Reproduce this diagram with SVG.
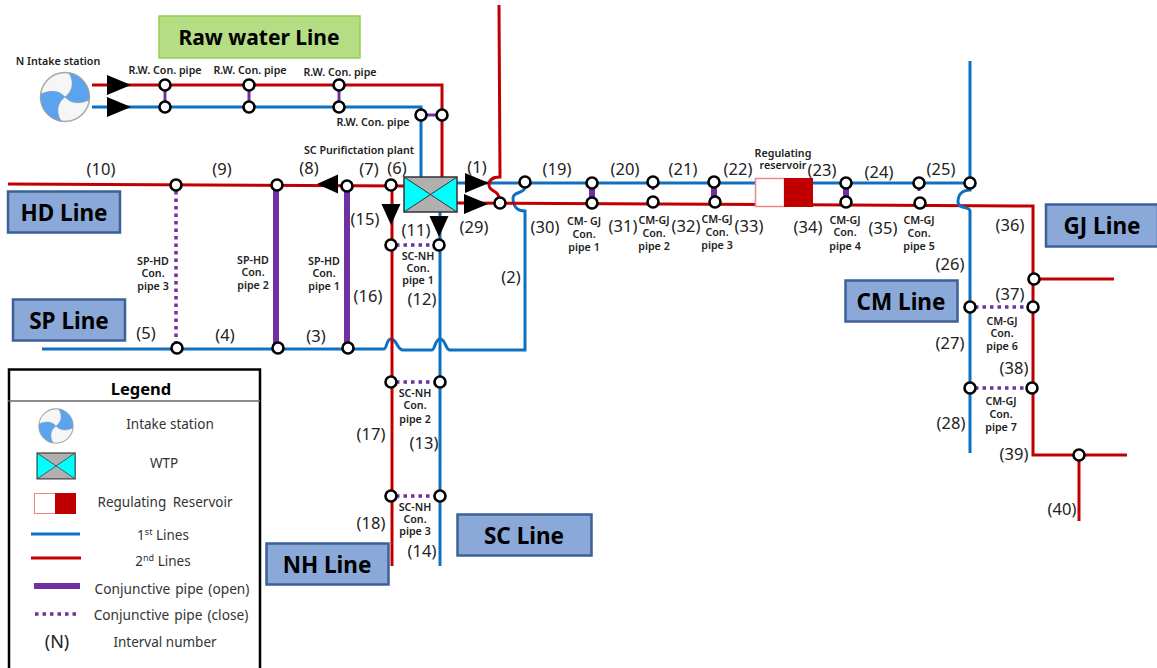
<svg xmlns="http://www.w3.org/2000/svg" width="1157" height="668" viewBox="0 0 1157 668">
<style>
text{font-family:"Noto Sans","Open Sans","Liberation Sans",sans-serif;text-anchor:middle;dominant-baseline:central;fill:#111}
.b1,.b2,.open,.thin,.close{fill:none}
.b1{stroke:#0f70c0;stroke-width:3}
.b2{stroke:#c00000;stroke-width:3}
.open{stroke:#7030a0;stroke-width:6}
.thin{stroke:#7030a0;stroke-width:3}
.close{stroke:#7030a0;stroke-width:3.5;stroke-dasharray:3.5 4}
.j{fill:#fff;stroke:#000;stroke-width:2.6}
.lb{fill:#8aa8d8;stroke:#3d6196;stroke-width:2.5}
.lt{font-size:22.5px;font-weight:700;fill:#000}
.n{font-size:16.5px;fill:#222}
.s{font-size:10.7px;font-weight:600;fill:#222}
.leg{font-size:13.5px;fill:#333}
.wide{word-spacing:1.5px;font-size:13.7px}
</style>
<defs>
<polygon id="ar" points="-12,-10 12,0 -12,10" fill="#000"/>
<polygon id="ars" points="-11,-9.500 10,0 -11,9.500" fill="#000"/>
<g id="fan">
<circle r="24.500" fill="#f6f6f6" stroke="#a8a8a8" stroke-width="1.500"/>
<path d="M0,0C7,-5 10,-14 4,-24A24.500,24.500 0 0 1 24,3C15,7 6,7 0,0Z" fill="#5ba3ee" stroke="#8a9bb0" stroke-width=".7"/>
<path d="M0,0C7,-5 10,-14 4,-24A24.500,24.500 0 0 1 24,3C15,7 6,7 0,0Z" fill="#5ba3ee" stroke="#8a9bb0" stroke-width=".7" transform="rotate(180)"/>
</g>
<g id="wtp">
<rect x="0" y="0" width="53" height="35" fill="#b0b0b0"/>
<polygon points="0,0 26.500,17.500 0,35" fill="#00ffff"/>
<polygon points="53,0 26.500,17.500 53,35" fill="#00ffff"/>
<path d="M0,0L53,35M53,0L0,35" stroke="#333" stroke-width="1" fill="none"/>
<rect x="0" y="0" width="53" height="35" fill="none" stroke="#333" stroke-width="1.500"/>
</g>
</defs>
<rect width="1157" height="668" fill="#fff"/>

<g id="connectors">
<path class="b2" d="M92,85H442V178"/>
<path class="b1" d="M92,107H421V178"/>
<path class="b2" d="M8,184L404,186"/>
<path class="b1" d="M42,349H384C387,349 386,339 391,339C397,339 397,350 403,350H432C435,350 435,339 440,339C446,339 445,350 450,350H525V211C513,211 513,200 513,198C513,191 525,194 525,187"/>
<path class="b2" d="M392,190V566"/>
<path class="b1" d="M440,212V566"/>
<path class="b1" d="M457,183H970"/>
<path class="b2" d="M457,203L1033,206V455H1127"/>
<path class="b2" d="M499,5L500,177C489,177 489,183 489,185C489,192 499,190 499,198"/>
<path class="b1" d="M970,61V190C958,190 958,200 958,202C958,209 970,206 970,211V453"/>
<path class="b2" d="M1034,279H1114"/>
<path class="b2" d="M1079,455V521"/>
<path class="thin" d="M165,88V104M249,88V104M339,88V104M421,115H442"/>
<path class="open" d="M276,190V346M347,190V346"/>
<path class="open" d="M592,188V198M714,187V198M846,188V198"/>
<path class="thin" d="M653,187V190M919,188V191"/>
<path class="close" d="M176,191V344M396,245H435M396,382H435M396,496H435M975,307H1027M975,388H1027"/>
<use href="#ar" x="119" y="85"/>
<use href="#ar" x="119" y="107"/>
<use href="#ars" transform="translate(327,184) rotate(180)"/>
<use href="#ars" transform="translate(391,215) rotate(90)"/>
<use href="#ars" transform="translate(439,227) rotate(90)"/>
<use href="#ar" x="477" y="183"/>
<use href="#ar" x="476" y="204"/>
</g>

<g id="label-raw"><rect x="159" y="16" width="201" height="42" fill="#b5de84" stroke="#92d050" stroke-width="1.500"/><text class="lt" x="259" y="37" style="font-size:21px">Raw water Line</text></g>
<g id="label-hd"><rect class="lb" x="8" y="191.500" width="112" height="41"/><text class="lt" x="64" y="212">HD Line</text></g>
<g id="label-sp"><rect class="lb" x="13" y="299.500" width="112" height="41"/><text class="lt" x="69" y="320">SP Line</text></g>
<g id="label-nh"><rect class="lb" x="266.500" y="543.500" width="122" height="41"/><text class="lt" x="327" y="564">NH Line</text></g>
<g id="label-sc"><rect class="lb" x="457.500" y="514.500" width="134" height="41"/><text class="lt" x="524" y="535">SC Line</text></g>
<g id="label-cm"><rect class="lb" x="845.500" y="280.500" width="112" height="41"/><text class="lt" x="901" y="301">CM Line</text></g>
<g id="label-gj"><rect class="lb" x="1046" y="204.500" width="112" height="42"/><text class="lt" x="1102" y="225">GJ Line</text></g>

<g id="intake"><use href="#fan" x="65" y="97"/></g>
<g id="wtp-main"><use href="#wtp" x="404" y="177"/></g>
<g id="reservoir"><rect x="755.500" y="178.500" width="29" height="28" fill="#fff" stroke="#e88" stroke-width="1.500"/><rect x="784" y="178" width="29" height="29" fill="#c00000"/></g>

<g id="junctions">
<circle class="j" cx="165" cy="85" r="5.500"/><circle class="j" cx="249" cy="85" r="5.500"/><circle class="j" cx="339" cy="85" r="5.500"/>
<circle class="j" cx="165" cy="107" r="5.500"/><circle class="j" cx="249" cy="107" r="5.500"/><circle class="j" cx="339" cy="107" r="5.500"/>
<circle class="j" cx="421" cy="115" r="5.500"/><circle class="j" cx="442" cy="115" r="5.500"/>
<circle class="j" cx="176" cy="185" r="5.500"/><circle class="j" cx="277" cy="185" r="5.500"/><circle class="j" cx="347" cy="186" r="5.500"/><circle class="j" cx="391" cy="185" r="5.500"/>
<circle class="j" cx="177" cy="348" r="5.500"/><circle class="j" cx="278" cy="348" r="5.500"/><circle class="j" cx="348" cy="348" r="5.500"/>
<circle class="j" cx="391" cy="245" r="5.500"/><circle class="j" cx="439" cy="245" r="5.500"/>
<circle class="j" cx="391" cy="382" r="5.500"/><circle class="j" cx="440" cy="382" r="5.500"/>
<circle class="j" cx="391" cy="496" r="5.500"/><circle class="j" cx="440" cy="496" r="5.500"/>
<circle class="j" cx="525" cy="182" r="5.500"/><circle class="j" cx="500" cy="203" r="5.500"/>
<circle class="j" cx="592" cy="183" r="5.500"/><circle class="j" cx="653" cy="182" r="5.500"/><circle class="j" cx="714" cy="182" r="5.500"/><circle class="j" cx="846" cy="183" r="5.500"/><circle class="j" cx="919" cy="183" r="5.500"/><circle class="j" cx="970" cy="183" r="5.500"/>
<circle class="j" cx="592" cy="203" r="5.500"/><circle class="j" cx="653" cy="202" r="5.500"/><circle class="j" cx="715" cy="202" r="5.500"/><circle class="j" cx="846" cy="202" r="5.500"/><circle class="j" cx="920" cy="203" r="5.500"/>
<circle class="j" cx="1034" cy="279" r="5.500"/><circle class="j" cx="1033" cy="307" r="5.500"/><circle class="j" cx="1032" cy="388" r="5.500"/>
<circle class="j" cx="970" cy="307" r="5.500"/><circle class="j" cx="970" cy="388" r="5.500"/><circle class="j" cx="1079" cy="455" r="5.500"/>
</g>

<g id="numbers">
<text class="n" x="101" y="168">(10)</text><text class="n" x="222" y="168">(9)</text><text class="n" x="309" y="167">(8)</text><text class="n" x="369" y="168">(7)</text><text class="n" x="397" y="167">(6)</text><text class="n" x="477" y="166">(1)</text><text class="n" x="474" y="226">(29)</text><text class="n" x="365" y="218">(15)</text><text class="n" x="416" y="229">(11)</text><text class="n" x="368" y="295">(16)</text><text class="n" x="422" y="298">(12)</text><text class="n" x="511" y="276">(2)</text><text class="n" x="146" y="332">(5)</text><text class="n" x="225" y="334">(4)</text><text class="n" x="316" y="335">(3)</text><text class="n" x="371" y="433">(17)</text><text class="n" x="424" y="442">(13)</text><text class="n" x="371" y="522">(18)</text><text class="n" x="422" y="550">(14)</text>
<text class="n" x="557" y="168">(19)</text><text class="n" x="625" y="168">(20)</text><text class="n" x="683" y="168">(21)</text><text class="n" x="738" y="168">(22)</text><text class="n" x="822" y="169">(23)</text><text class="n" x="879" y="171">(24)</text><text class="n" x="941" y="168">(25)</text><text class="n" x="545" y="226">(30)</text><text class="n" x="623" y="225">(31)</text><text class="n" x="686" y="225">(32)</text><text class="n" x="749" y="225">(33)</text><text class="n" x="808" y="226">(34)</text><text class="n" x="883" y="227">(35)</text><text class="n" x="950" y="263">(26)</text><text class="n" x="950" y="342">(27)</text><text class="n" x="951" y="422">(28)</text><text class="n" x="1010" y="224">(36)</text><text class="n" x="1010" y="293">(37)</text><text class="n" x="1014" y="367">(38)</text><text class="n" x="1014" y="453">(39)</text><text class="n" x="1062" y="508">(40)</text>
</g>

<g id="small-labels">
<text class="s" x="58" y="61">N Intake station</text>
<text class="s" x="165" y="70">R.W. Con. pipe</text><text class="s" x="250" y="70">R.W. Con. pipe</text><text class="s" x="340" y="72">R.W. Con. pipe</text><text class="s" x="373" y="122">R.W. Con. pipe</text>
<text class="s" x="359" y="150">SC Purifictation plant</text>
<text class="s" x="153" y="261">SP-HD</text><text class="s" x="153" y="273">Con.</text><text class="s" x="153" y="286">pipe 3</text>
<text class="s" x="253" y="260">SP-HD</text><text class="s" x="253" y="272">Con.</text><text class="s" x="253" y="285">pipe 2</text>
<text class="s" x="324" y="261">SP-HD</text><text class="s" x="324" y="273">Con.</text><text class="s" x="324" y="286">pipe 1</text>
<text class="s" x="418" y="256">SC-NH</text><text class="s" x="418" y="268">Con.</text><text class="s" x="418" y="280">pipe 1</text>
<text class="s" x="415" y="393">SC-NH</text><text class="s" x="415" y="405">Con.</text><text class="s" x="415" y="419">pipe 2</text>
<text class="s" x="415" y="507">SC-NH</text><text class="s" x="415" y="519">Con.</text><text class="s" x="415" y="531">pipe 3</text>
<text class="s" x="584" y="221">CM- GJ</text><text class="s" x="584" y="234">Con.</text><text class="s" x="584" y="247">pipe 1</text>
<text class="s" x="654" y="220">CM-GJ</text><text class="s" x="654" y="233">Con.</text><text class="s" x="654" y="246">pipe 2</text>
<text class="s" x="717" y="219">CM-GJ</text><text class="s" x="717" y="232">Con.</text><text class="s" x="717" y="245">pipe 3</text>
<text class="s" x="845" y="220">CM-GJ</text><text class="s" x="845" y="232">Con.</text><text class="s" x="845" y="246">pipe 4</text>
<text class="s" x="919" y="220">CM-GJ</text><text class="s" x="919" y="233">Con.</text><text class="s" x="919" y="246">pipe 5</text>
<text class="s" x="783" y="153">Regulating</text><text class="s" x="783" y="165">reservoir</text>
<text class="s" x="1002" y="321">CM-GJ</text><text class="s" x="1002" y="333">Con.</text><text class="s" x="1002" y="346">pipe 6</text>
<text class="s" x="1001" y="401">CM-GJ</text><text class="s" x="1001" y="414">Con.</text><text class="s" x="1001" y="427">pipe 7</text>
</g>

<g id="legend">
<rect x="9" y="369.500" width="251" height="305" fill="#fff" stroke="#000" stroke-width="2.500"/>
<path d="M8,401H260" stroke="#666" stroke-width="1.500"/>
<text x="141" y="388" style="font-size:16.500px;font-weight:700;fill:#000">Legend</text>
<use href="#fan" transform="translate(56,426) scale(.7)"/>
<use href="#wtp" transform="translate(37,453) scale(.72,.74)"/>
<rect x="34.500" y="493.500" width="21" height="20" fill="#fff" stroke="#e88" stroke-width="1"/><rect x="55" y="493" width="21" height="21" fill="#c00000"/>
<path class="b1" d="M31,534H80"/><path class="b2" d="M31,558H81"/><path class="open" d="M34,586H80"/><path class="close" d="M35,614H78"/>
<text x="57" y="641" style="font-size:18px;fill:#222">(N)</text>
<text class="leg" x="170" y="424">Intake station</text>
<text class="leg" x="164" y="463">WTP</text>
<text class="leg" x="165" y="502" style="word-spacing:3px">Regulating  Reservoir</text>
<text class="leg" x="163" y="535">1<tspan font-size="9" dy="-4">st</tspan><tspan dy="4"> Lines</tspan></text>
<text class="leg" x="163" y="561">2<tspan font-size="9" dy="-4">nd</tspan><tspan dy="4"> Lines</tspan></text>
<text class="leg wide" x="172" y="588">Conjunctive pipe (open)</text>
<text class="leg wide" x="171" y="614">Conjunctive pipe (close)</text>
<text class="leg" x="165" y="642">Interval number</text>
</g>
</svg>
